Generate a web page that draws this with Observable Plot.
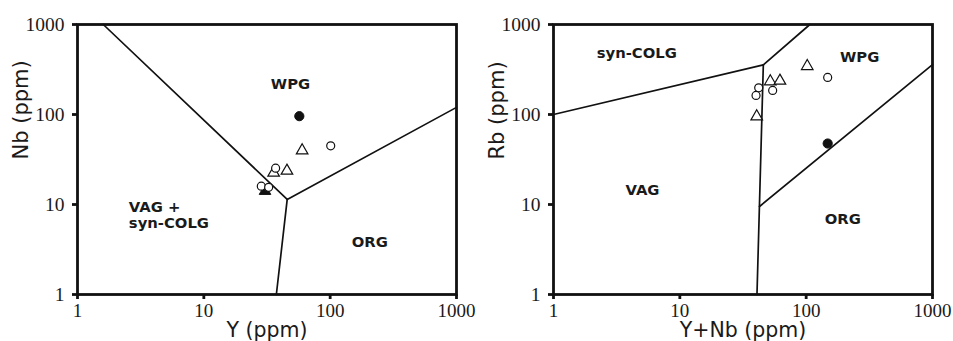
<!DOCTYPE html>
<html><head><meta charset="utf-8">
<script src="https://cdn.jsdelivr.net/npm/d3@7"></script>
<script src="https://cdn.jsdelivr.net/npm/@observablehq/plot@0.6"></script>
<style>
html,body{margin:0;padding:0;background:#fff;overflow:hidden;}
#wrap{display:flex;width:953px;height:341px;}
#wrap svg{display:block;}
</style></head><body><div id="wrap"></div>
<script>
// Axis ticks
const tickValues = [1, 10, 100, 1000];
const tickLabels = ["1", "10", "100", "1000"];

// Panel A: Nb vs Y
const aXTitle = "Y (ppm)";
const aYTitle = "Nb (ppm)";
const aY  = [57, 60, 101, 37, 35.7, 45.5, 28.5, 32.6, 30.5];
const aNb = [95.8, 39.8, 44.9, 25.3, 22.5, 23.7, 16.0, 15.5, 14.1];
const aSymbol = ["filled circle", "open triangle", "open circle", "open circle", "open triangle",
                 "open triangle", "open circle", "open circle", "filled triangle"];
const aBoundX = [[1.6, 45.7], [45.7, 1000], [37.5, 45.7]];
const aBoundY = [[1000, 11.4], [11.4, 120], [1, 11.4]];
const aLabelText = ["WPG", "VAG +", "syn-COLG", "ORG"];
const aLabelX = [48.5, 2.55, 2.55, 206];
const aLabelY = [193, 8.21, 5.45, 3.41];
const aLabelAnchor = ["middle", "start", "start", "middle"];

// Panel B: Rb vs Y+Nb
const bXTitle = "Y+Nb (ppm)";
const bYTitle = "Rb (ppm)";
const bYNb = [102, 148, 52, 62, 42.1, 54.3, 40.1, 40.6, 148];
const bRb  = [344, 258, 233, 237, 198, 185, 163, 95, 47.6];
const bSymbol = ["open triangle", "open circle", "open triangle", "open triangle", "open circle",
                 "open circle", "open circle", "open triangle", "filled circle"];
const bBoundX = [[1, 45.8], [45.8, 107], [40.8, 45.8], [42.7, 1000]];
const bBoundY = [[100, 356], [356, 1000], [1, 356], [9.5, 359]];
const bLabelText = ["syn-COLG", "WPG", "VAG", "ORG"];
const bLabelX = [4.56, 265, 5.06, 195];
const bLabelY = [426, 388, 12.9, 6.04];
const bLabelAnchor = ["middle", "middle", "middle", "middle"];

function panel(width, xs, ys, syms, bx, by, lt, lx, ly, la, xTitle, yTitle) {
  const pts = xs.map((x, i) => ({x, y: ys[i], s: syms[i]}));
  const segs = [];
  bx.forEach((seg, k) => seg.forEach((x, j) => segs.push({id: k, x, y: by[k][j]})));
  const labs = lt.map((t, i) => ({t, x: lx[i], y: ly[i], a: la[i]}));
  const fmt = d => tickLabels[tickValues.indexOf(d)];
  const ink = "#111";
  const labelFont = {fontFamily: "DejaVu Sans", fontWeight: "bold", fontSize: 14.8, fill: "#1a1a1a", lineAnchor: "bottom"};
  return Plot.plot({
    width, height: 341,
    marginLeft: 77, marginRight: width - 456, marginTop: 24, marginBottom: 47,
    x: {type: "log", domain: [1, 1000], label: null},
    y: {type: "log", domain: [1, 1000], label: null},
    style: {fontFamily: "Liberation Serif", fontSize: "19.5px", color: "#1a1a1a", background: "white", overflow: "visible"},
    marks: [
      Plot.line(segs, {x: "x", y: "y", z: "id", stroke: ink, strokeWidth: 1.7}),
      Plot.text(labs.filter(d => d.a === "middle"), {x: "x", y: "y", text: "t", textAnchor: "middle", ...labelFont}),
      Plot.text(labs.filter(d => d.a === "start"), {x: "x", y: "y", text: "t", textAnchor: "start", ...labelFont}),
      Plot.dot(pts.filter(d => d.s === "filled triangle"), {x: "x", y: "y", symbol: "triangle", r: 4.3, fill: ink, stroke: ink, strokeWidth: 1}),
      Plot.dot(pts.filter(d => d.s === "open triangle"), {x: "x", y: "y", symbol: "triangle", r: 4.3, fill: "white", stroke: ink, strokeWidth: 1.2}),
      Plot.dot(pts.filter(d => d.s === "open circle"), {x: "x", y: "y", r: 4, fill: "white", stroke: ink, strokeWidth: 1.2}),
      Plot.dot(pts.filter(d => d.s === "filled circle"), {x: "x", y: "y", r: 4.6, fill: ink, stroke: ink, strokeWidth: 1}),
      Plot.frame({stroke: ink, strokeWidth: 2.8}),
      Plot.axisX({ticks: tickValues, tickFormat: fmt, tickSize: 5, tickPadding: 4, strokeWidth: 2.8, stroke: ink, label: null, fontSize: 19, fill: "#1a1a1a"}),
      Plot.axisY({ticks: tickValues, tickFormat: fmt, tickSize: 5, tickPadding: 8, strokeWidth: 2.8, stroke: ink, label: null, fontSize: 19.5, fill: "#1a1a1a"}),
      Plot.text([xTitle], {frameAnchor: "bottom", text: d => d, lineAnchor: "bottom", dy: 42.5, fontFamily: "DejaVu Sans", fontSize: 20.5, fill: "#1a1a1a"}),
      Plot.text([yTitle], {frameAnchor: "left", text: d => d, rotate: -90, lineAnchor: "bottom", dx: -49.5, fontFamily: "DejaVu Sans", fontSize: 21, fill: "#1a1a1a"})
    ]
  });
}

const wrap = document.getElementById("wrap");
wrap.append(panel(476, aY, aNb, aSymbol, aBoundX, aBoundY, aLabelText, aLabelX, aLabelY, aLabelAnchor, aXTitle, aYTitle));
wrap.append(panel(477, bYNb, bRb, bSymbol, bBoundX, bBoundY, bLabelText, bLabelX, bLabelY, bLabelAnchor, bXTitle, bYTitle));
</script>
</body></html>
